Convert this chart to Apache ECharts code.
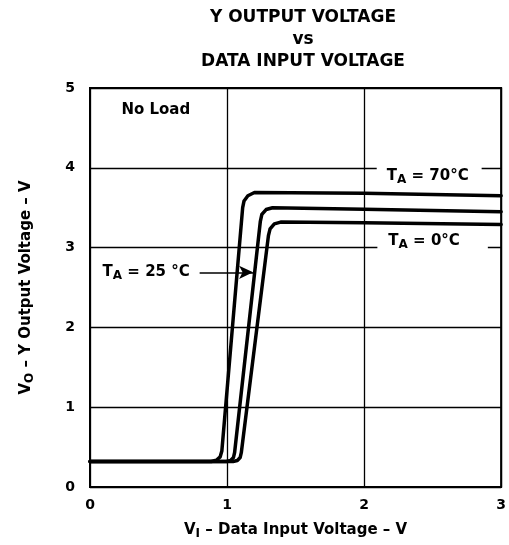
<!DOCTYPE html>
<html>
<head>
<meta charset="utf-8">
<script src="https://cdn.jsdelivr.net/npm/echarts@6/dist/echarts.min.js"></script>
<style>
  html, body { margin: 0; padding: 0; background: #fff; }
  #chart { width: 509px; height: 545px; }
</style>
</head>
<body>
<div id="chart"></div>
<script>
// curves, [Vi, Vo] (extra points on the rounded knees)
const t70 = [[0, 0.32], [0.885, 0.32], [0.922, 0.335], [0.95, 0.378], [0.962, 0.45],
  [1.114, 3.5], [1.124, 3.585], [1.152, 3.65], [1.2, 3.69], [2, 3.68], [3, 3.65]];
const t25 = [[0, 0.32], [0.995, 0.32], [1.026, 0.333], [1.047, 0.37], [1.055, 0.43],
  [1.243, 3.33], [1.254, 3.415], [1.285, 3.477], [1.332, 3.5], [2, 3.48], [3, 3.45]];
const t0 = [[0, 0.32], [1.044, 0.32], [1.075, 0.333], [1.096, 0.37], [1.104, 0.43],
  [1.302, 3.15], [1.314, 3.235], [1.345, 3.297], [1.391, 3.32], [2, 3.31], [3, 3.29]];

const xTicks = [0, 1, 2, 3];
const yTicks = [0, 1, 2, 3, 4, 5];

const FONT = 'DejaVu Sans';
const ink = '#000';

const labelRich = {
  t: { fontFamily: FONT, fontWeight: 'bold', fontSize: 15, color: ink },
  sub: { fontFamily: FONT, fontWeight: 'bold', fontSize: 12, color: ink, padding: [8, 0, 0, 0] }
};

function note(text, coord, pad) {
  return {
    coord: coord,
    symbolSize: 0,
    label: {
      show: true,
      position: 'inside',
      formatter: text,
      rich: labelRich,
      backgroundColor: '#fff',
      padding: pad
    }
  };
}

const chart = echarts.init(document.getElementById('chart'));

const curve = (name, data, extra) => Object.assign({
  name: name,
  type: 'line',
  data: data,
  showSymbol: false,
  lineStyle: { color: ink, width: 3.5, cap: 'round', join: 'round' },
  z: 3
}, extra);

const option = {
  animation: false,
  backgroundColor: '#fff',
  title: {
    text: 'Y OUTPUT VOLTAGE\nvs\nDATA INPUT VOLTAGE',
    left: 298,
    top: 2,
    textAlign: 'center',
    textStyle: { fontFamily: FONT, fontWeight: 'bold', fontSize: 17, lineHeight: 22, color: ink }
  },
  grid: { left: 90, right: 5, top: 88, bottom: 58, show: true, borderColor: ink, borderWidth: 2 },
  xAxis: {
    type: 'value',
    min: 0, max: 3, interval: 1,
    axisLine: { lineStyle: { color: ink, width: 2 } },
    axisTick: { show: false },
    splitLine: { lineStyle: { color: ink, width: 1.3 } },
    axisLabel: {
      margin: 11,
      fontFamily: FONT, fontWeight: 'bold', fontSize: 14, color: ink,
      formatter: v => xTicks.includes(v) ? String(v) : ''
    },
    name: '{t|V}{sub|I}{t| – Data Input Voltage – V}',
    nameLocation: 'middle',
    nameGap: 33,
    nameTextStyle: { rich: labelRich }
  },
  yAxis: {
    type: 'value',
    min: 0, max: 5, interval: 1,
    axisLine: { lineStyle: { color: ink, width: 2 } },
    axisTick: { show: false },
    splitLine: { lineStyle: { color: ink, width: 1.3 } },
    axisLabel: {
      margin: 15,
      fontFamily: FONT, fontWeight: 'bold', fontSize: 14, color: ink,
      formatter: v => yTicks.includes(v) ? String(v) : ''
    },
    name: '{t|V}{sub|O}{t| – Y Output Voltage – V}',
    nameLocation: 'middle',
    nameGap: 54,
    nameTextStyle: { rich: labelRich }
  },
  series: [
    curve('TA = 70°C', t70, {
      markPoint: {
        silent: true,
        data: [
          note('{t|T}{sub|A}{t| = 70°C}', [2.475, 3.9], [3, 13, 2, 10]),
          note('{t|No Load}', [0.48, 4.72], [0, 0])
        ]
      }
    }),
    curve('TA = 25°C', t25, {
      markPoint: {
        silent: true,
        data: [note('{t|T}{sub|A}{t| = 25 °C}', [0.41, 2.69], [0, 0])]
      },
      markLine: {
        silent: true,
        symbol: ['none', 'arrow'],
        symbolSize: [10, 14],
        lineStyle: { color: ink, width: 1.5, type: 'solid' },
        label: { show: false },
        data: [[{ coord: [0.8, 2.69] }, { coord: [1.19, 2.69] }]]
      }
    }),
    curve('TA = 0°C', t0, {
      markPoint: {
        silent: true,
        data: [note('{t|T}{sub|A}{t| = 0°C}', [2.5, 3.09], [3, 28, 2, 11])]
      }
    })
  ]
};

chart.setOption(option);
</script>
</body>
</html>
